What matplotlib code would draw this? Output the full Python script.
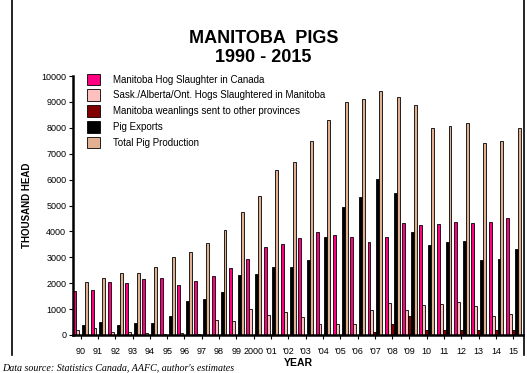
import numpy as np
import matplotlib
matplotlib.use('Agg')
import matplotlib.pyplot as plt
from matplotlib.lines import Line2D

plt.rcParams['font.family'] = ['Liberation Sans', 'DejaVu Sans']

# years 1990 - 2015, thousand head
year_labels = ['90', '91', '92', '93', '94', '95', '96', '97', '98', '99', '2000',
               "'01", "'02", "'03", "'04", "'05", "'06", "'07", "'08", "'09",
               '10', '11', '12', '13', '14', '15']

mb_slaughter = [1710, 1720, 2040, 2000, 2160, 2200, 1930, 2080, 2260, 2570, 2920,
                3380, 3520, 3750, 3970, 3860, 3790, 3600, 3770, 4330,
                4230, 4280, 4370, 4330, 4370, 4530]
other_prov_in_mb = [190, 255, 115, 130, 90, 50, 70, 20, 560, 520, 1020,
                    790, 870, 680, 410, 410, 430, 970, 1250, 980,
                    1160, 1200, 1280, 1100, 730, 820]
weanlings_out = [0, 0, 0, 0, 0, 0, 0, 0, 0, 0, 0,
                 0, 0, 0, 0, 0, 0, 115, 410, 715,
                 200, 200, 180, 200, 200, 200]
pig_exports = [370, 485, 385, 460, 450, 740, 1300, 1370, 1670, 2310, 2350,
               2630, 2630, 2890, 3790, 4940, 5330, 6020, 5500, 3985,
               3470, 3600, 3620, 2890, 2920, 3310]
total_production = [2040, 2200, 2400, 2400, 2630, 3000, 3220, 3550, 4060, 4760, 5380,
                    6370, 6680, 7510, 8310, 8980, 9120, 9440, 9180, 8880,
                    8010, 8070, 8170, 7410, 7510, 8010]

series = [
    ('Manitoba Hog Slaughter in Canada', mb_slaughter, '#FF0080'),
    ('Sask./Alberta/Ont. Hogs Slaughtered in Manitoba', other_prov_in_mb, '#FFC0C0'),
    ('Manitoba weanlings sent to other provinces', weanlings_out, '#800000'),
    ('Pig Exports', pig_exports, '#000000'),
    ('Total Pig Production', total_production, '#E0B090'),
]

fig = plt.figure(figsize=(5.27, 3.73), dpi=100)
ax = fig.add_axes([0.139, 0.102, 0.854, 0.694])

x = np.arange(len(year_labels))
w = 0.17
for k, (name, vals, col) in enumerate(series):
    ax.bar(x + k * w, vals, width=w, align='edge', color=col,
           edgecolor='black', linewidth=0.6, label=name)

ax.set_xlim(0, len(year_labels))
ax.set_ylim(0, 10000)
ax.set_yticks(range(0, 10001, 1000))
ax.set_xticks(x + 0.425)
ax.set_xticklabels(year_labels)
ax.tick_params(axis='both', labelsize=6.5, length=3, width=0.8, pad=2)
ax.tick_params(axis='x', pad=6)

ax.spines['top'].set_visible(False)
ax.spines['left'].set_linewidth(1.8)
ax.spines['bottom'].set_linewidth(1.8)
ax.spines['right'].set_visible(False)

ax.set_ylabel('THOUSAND HEAD', fontsize=7, fontweight='bold', labelpad=7)
ax.set_xlabel('YEAR', fontsize=7.5, fontweight='bold', labelpad=1)

leg = ax.legend(loc='upper left', bbox_to_anchor=(0.023, 1.025), frameon=False,
                fontsize=7, handlelength=1.3, handleheight=1.5,
                labelspacing=0.4, handletextpad=1.3, borderaxespad=0)

# side rules of the chart area
fig.add_artist(Line2D([12 / 527, 12 / 527], [18 / 373, 1.0], color='black', lw=1.2))
fig.add_artist(Line2D([523.5 / 527, 523.5 / 527], [18 / 373, 1.0], color='black', lw=1.2))

fig.text(0.5, 0.898, 'MANITOBA  PIGS', ha='center', va='center',
         fontsize=13, fontweight='bold')
fig.text(0.5, 0.847, '1990 - 2015', ha='center', va='center',
         fontsize=13, fontweight='bold')
fig.text(0.004, 0.006, "Data source: Statistics Canada, AAFC, author's estimates",
         fontsize=7.2, style='italic', family='Liberation Serif')

fig.savefig('out.png', dpi=100)
